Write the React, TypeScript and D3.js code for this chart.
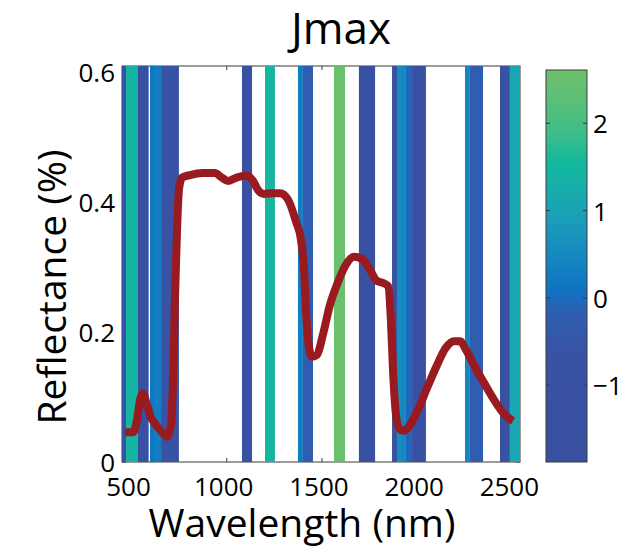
import * as d3 from "d3";

// spectral bands: start / end wavelength (nm) and coefficient value
const bandStart = [450, 471, 534, 597, 618, 655, 1080, 1201, 1374, 1400, 1563, 1694, 1868, 1894, 1915, 1941, 1973, 2251, 2277, 2435, 2487];
const bandEnd = [471, 534, 590, 618, 655, 749, 1133, 1253, 1400, 1453, 1621, 1779, 1894, 1915, 1941, 1973, 2046, 2277, 2346, 2487, 2540];
const bandValue = [-1.2, 1.45, -1.2, 0.15, 0.3, -0.6, -1.2, 1.45, 0.3, -0.2, 2.55, -1.2, -1.2, 0.6, 0.45, -0.05, -1.2, 0.45, -0.2, -1.2, 1.1];

// mean reflectance spectrum
const wavelength = [466, 508, 529, 545, 560, 581, 602, 629, 660, 686, 707, 718, 728, 739, 749, 765, 807, 875, 938, 975, 1007, 1059, 1106, 1138, 1164, 1196, 1238, 1280, 1322, 1364, 1390, 1406, 1416, 1427, 1448, 1474, 1505, 1542, 1584, 1626, 1668, 1710, 1752, 1789, 1820, 1847, 1862, 1873, 1889, 1905, 1931, 1962, 2004, 2052, 2104, 2151, 2193, 2225, 2256, 2298, 2351, 2403, 2456, 2503];
const reflectance = [0.046, 0.046, 0.065, 0.096, 0.106, 0.088, 0.069, 0.057, 0.046, 0.039, 0.057, 0.126, 0.25, 0.357, 0.419, 0.438, 0.442, 0.445, 0.445, 0.438, 0.433, 0.439, 0.441, 0.433, 0.419, 0.413, 0.414, 0.414, 0.404, 0.37, 0.342, 0.296, 0.234, 0.188, 0.162, 0.165, 0.196, 0.242, 0.277, 0.304, 0.316, 0.313, 0.296, 0.279, 0.276, 0.271, 0.219, 0.142, 0.072, 0.052, 0.048, 0.057, 0.08, 0.114, 0.149, 0.176, 0.186, 0.186, 0.173, 0.149, 0.122, 0.096, 0.074, 0.063];

const xTicks = [500, 1000, 1500, 2000, 2500];
const yTicks = [0, 0.2, 0.4, 0.6];
const cbTicks = [-1, 0, 1, 2];

// colormap stops
const cmapValues = [-1.88, -0.6, -0.2, 0.1, 0.5, 0.9, 1.3, 1.55, 1.9, 2.3, 2.61];
const cmapColors = ["#3a4f9f", "#3853a5", "#2f5db0", "#0f73c2", "#1589c0", "#1a9db9", "#17b0a8", "#12b99d", "#3fbd88", "#5dbf76", "#6dc06a"];

const FONT = "'Open Sans', sans-serif";

export default function App() {
  const plot = { left: 122, right: 520, top: 66, bottom: 462 };
  const cb = { left: 546, right: 587, top: 70, bottom: 462 };

  const x = d3.scaleLinear().domain([450, 2540]).range([plot.left, plot.right]);
  const y = d3.scaleLinear().domain([0, 0.61]).range([plot.bottom, plot.top]);
  const color = d3.scaleLinear<string>().domain(cmapValues).range(cmapColors).interpolate(d3.interpolateRgb);
  const cbY = d3.scaleLinear().domain([-1.88, 2.61]).range([cb.bottom, cb.top]);

  const line = d3
    .line<number>()
    .x((_, i) => x(wavelength[i]))
    .y((d) => y(d))
    .curve(d3.curveMonotoneX);

  const axisColor = "#3a3a3a";

  return (
    <svg width={635} height={551} style={{ position: "absolute", left: 0, top: 0, background: "#fff" }}>
      <defs>
        <linearGradient id="cmap" x1="0" y1="1" x2="0" y2="0">
          {cmapValues.map((v, i) => (
            <stop key={i} offset={(v - cmapValues[0]) / (cmapValues[cmapValues.length - 1] - cmapValues[0])} stopColor={cmapColors[i]} />
          ))}
        </linearGradient>
        <clipPath id="plotClip">
          <rect x={plot.left} y={plot.top} width={plot.right - plot.left} height={plot.bottom - plot.top} />
        </clipPath>
      </defs>

      {/* axes box (drawn below data, MATLAB style) */}
      <rect x={plot.left} y={plot.top} width={plot.right - plot.left} height={plot.bottom - plot.top} fill="none" stroke={axisColor} strokeWidth={1} />
      {xTicks.map((t) => (
        <g key={t}>
          <line x1={x(t)} x2={x(t)} y1={plot.bottom} y2={plot.bottom - 4} stroke={axisColor} />
          <line x1={x(t)} x2={x(t)} y1={plot.top} y2={plot.top + 4} stroke={axisColor} />
        </g>
      ))}
      {yTicks.map((t) => (
        <g key={t}>
          <line x1={plot.left} x2={plot.left + 4} y1={y(t)} y2={y(t)} stroke={axisColor} />
          <line x1={plot.right} x2={plot.right - 4} y1={y(t)} y2={y(t)} stroke={axisColor} />
        </g>
      ))}

      <g clipPath="url(#plotClip)">
        {bandStart.map((s, i) => (
          <rect key={i} x={x(s)} y={plot.top} width={x(bandEnd[i]) - x(s)} height={plot.bottom - plot.top} fill={color(bandValue[i])} />
        ))}
        <path d={line(reflectance) || ""} fill="none" stroke="#9a1b1f" strokeWidth={8} strokeLinejoin="round" />
      </g>

      {/* tick labels */}
      {xTicks.map((t) => (
        <text key={t} x={x(t) - 3} y={496} textAnchor="middle" fontFamily={FONT} fontSize={26} fill="#000">
          {t}
        </text>
      ))}
      {yTicks.map((t) => (
        <text key={t} x={115} y={y(t) + 10} textAnchor="end" fontFamily={FONT} fontSize={26} fill="#000">
          {t === 0 ? "0" : t.toFixed(1)}
        </text>
      ))}

      {/* labels */}
      <text x={341} y={44} textAnchor="middle" fontFamily={FONT} fontSize={44} fill="#000">
        Jmax
      </text>
      <text x={302} y={537} textAnchor="middle" fontFamily={FONT} fontSize={39} fill="#000">
        Wavelength (nm)
      </text>
      <text transform={`translate(66,287) rotate(-90)`} textAnchor="middle" fontFamily={FONT} fontSize={39} fill="#000">
        Reflectance (%)
      </text>

      {/* colorbar */}
      <rect x={cb.left} y={cb.top} width={cb.right - cb.left} height={cb.bottom - cb.top} fill="url(#cmap)" stroke={axisColor} strokeWidth={1} />
      {cbTicks.map((t) => (
        <g key={t}>
          <line x1={cb.left} x2={cb.left + 4} y1={cbY(t)} y2={cbY(t)} stroke={axisColor} />
          <line x1={cb.right} x2={cb.right - 4} y1={cbY(t)} y2={cbY(t)} stroke={axisColor} />
          <text x={593} y={cbY(t) + 10} fontFamily={FONT} fontSize={26} fill="#000">
            {t < 0 ? `\u2212${Math.abs(t)}` : t}
          </text>
        </g>
      ))}
    </svg>
  );
}
